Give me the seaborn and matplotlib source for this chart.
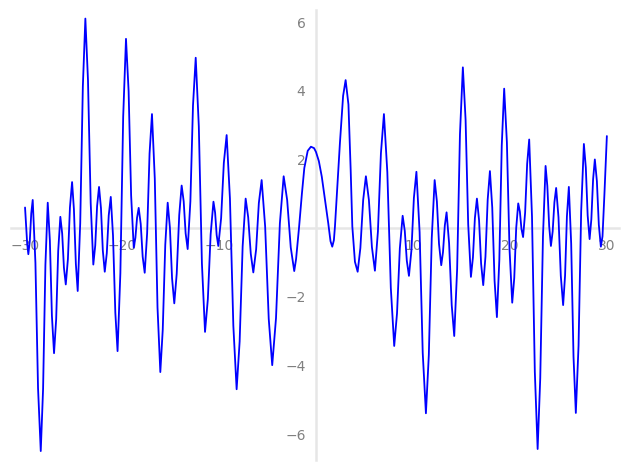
import numpy as np
import pandas as pd
import matplotlib
matplotlib.use("Agg")
import matplotlib.pyplot as plt
import seaborn as sns
from matplotlib.ticker import MultipleLocator, FuncFormatter

# ── Data ────────────────────────────────────────────────────────────────────
x_vals = [-30.00, -29.78, -29.66, -29.51, -29.36, -29.21, -28.93, -28.66, -28.38,
          -28.14, -27.90, -27.66, -27.44, -27.23, -27.01, -26.79, -26.58, -26.36,
          -26.17, -25.99, -25.80, -25.58, -25.37, -25.15, -24.96, -24.76, -24.57,
          -24.31, -24.04, -23.78, -23.51, -23.23, -22.96, -22.76, -22.57, -22.37,
          -22.17, -21.98, -21.78, -21.57, -21.37, -21.16, -20.93, -20.69, -20.46,
          -20.17, -19.88, -19.59, -19.32, -19.06, -18.79, -18.62, -18.45, -18.28,
          -18.07, -17.87, -17.66, -17.41, -17.16, -16.91, -16.62, -16.34, -16.05,
          -15.80, -15.54, -15.29, -15.06, -14.84, -14.61, -14.36, -14.10, -13.85,
          -13.64, -13.44, -13.23, -12.95, -12.68, -12.40, -12.08, -11.76, -11.44,
          -11.15, -10.86, -10.57, -10.40, -10.24, -10.07, -9.78, -9.50, -9.21,
          -8.87, -8.52, -8.18, -7.87, -7.56, -7.25, -6.99, -6.72, -6.46,
          -6.17, -5.89, -5.60, -5.24, -4.87, -4.51, -4.12, -3.72, -3.33,
          -2.97, -2.60, -2.24, -2.05, -1.75, -1.45, -1.20, -0.85, -0.52,
          -0.20, 0.00, 0.30, 0.60, 0.95, 1.27, 1.50, 1.68, 1.85,
          1.96, 2.47, 2.80, 3.06, 3.35, 3.58, 3.75, 4.02, 4.30,
          4.58, 4.87, 5.15, 5.46, 5.77, 6.08, 6.39, 6.70, 7.01,
          7.36, 7.72, 8.07, 8.36, 8.65, 8.94, 9.16, 9.37, 9.59,
          9.85, 10.10, 10.36, 10.69, 11.01, 11.34, 11.64, 11.94, 12.24,
          12.47, 12.69, 12.92, 13.10, 13.29, 13.47, 13.73, 14.00, 14.26,
          14.56, 14.85, 15.15, 15.43, 15.70, 15.98, 16.19, 16.39, 16.60,
          16.82, 17.03, 17.25, 17.48, 17.71, 17.94, 18.18, 18.42, 18.66,
          18.91, 19.16, 19.41, 19.69, 19.96, 20.24, 20.45, 20.65, 20.86,
          21.03, 21.19, 21.36, 21.57, 21.78, 21.99, 22.28, 22.57, 22.86,
          23.13, 23.41, 23.68, 23.86, 24.05, 24.23, 24.41, 24.59, 24.77,
          25.01, 25.25, 25.49, 25.69, 25.88, 26.08, 26.32, 26.56, 26.80,
          27.08, 27.35, 27.63, 27.83, 28.02, 28.22, 28.40, 28.58, 28.76,
          28.97, 29.17, 29.38, 29.55, 29.75, 30.00]
y_vals = [0.60, -0.45, -0.76, -0.37, 0.43, 0.82, -1.01, -4.66, -6.49,
          -4.68, -1.07, 0.74, -0.36, -2.55, -3.64, -2.65, -0.66, 0.33,
          -0.16, -1.15, -1.64, -0.90, 0.60, 1.34, 0.55, -1.04, -1.83,
          0.15, 4.12, 6.10, 4.31, 0.73, -1.06, -0.50, 0.64, 1.20,
          0.58, -0.65, -1.27, -0.73, 0.37, 0.91, -0.21, -2.46, -3.58,
          -1.31, 3.24, 5.51, 3.99, 0.95, -0.57, -0.28, 0.30, 0.59,
          0.12, -0.83, -1.30, -0.15, 2.17, 3.32, 1.44, -2.31, -4.19,
          -2.96, -0.49, 0.74, 0.01, -1.46, -2.19, -1.33, 0.38, 1.24,
          0.78, -0.15, -0.61, 0.78, 3.57, 4.96, 2.96, -1.03, -3.02,
          -2.07, -0.18, 0.77, 0.45, -0.20, -0.52, 0.29, 1.90, 2.71,
          0.86, -2.84, -4.69, -3.30, -0.53, 0.86, 0.32, -0.75, -1.29,
          -0.62, 0.73, 1.40, 0.05, -2.64, -3.99, -2.62, 0.14, 1.51,
          0.82, -0.56, -1.25, -0.90, 0.00, 1.00, 1.75, 2.25, 2.37,
          2.33, 2.22, 1.95, 1.50, 0.80, 0.14, -0.38, -0.54, -0.35,
          0.05, 2.47, 3.85, 4.31, 3.60, 1.70, 0.05, -0.98, -1.27,
          -0.58, 0.82, 1.51, 0.82, -0.55, -1.24, -0.10, 2.18, 3.32,
          1.63, -1.74, -3.43, -2.48, -0.59, 0.36, -0.08, -0.95, -1.39,
          -0.63, 0.88, 1.64, -0.12, -3.63, -5.39, -3.69, -0.30, 1.40,
          0.78, -0.46, -1.08, -0.70, 0.08, 0.46, -0.44, -2.24, -3.14,
          -1.19, 2.73, 4.68, 3.16, 0.11, -1.42, -0.85, 0.29, 0.86,
          0.23, -1.03, -1.66, -0.83, 0.83, 1.66, 0.60, -1.53, -2.59,
          -0.93, 2.40, 4.06, 2.50, -0.61, -2.17, -1.45, 0.00, 0.72,
          0.48, -0.02, -0.26, 0.45, 1.87, 2.58, 0.33, -4.18, -6.43,
          -4.37, -0.25, 1.81, 1.23, 0.06, -0.52, -0.10, 0.75, 1.17,
          0.32, -1.39, -2.24, -1.38, 0.34, 1.20, -0.45, -3.74, -5.38,
          -3.42, 0.49, 2.45, 1.76, 0.37, -0.32, 0.26, 1.42, 2.00,
          1.37, 0.10, -0.54, -0.24, 1.00, 2.68]

x_major = [-30, -20, -10, 10, 20, 30]
y_major = [-6, -4, -2, 2, 4, 6]

df = pd.DataFrame({"x": x_vals, "y": y_vals})

# ── Figure ──────────────────────────────────────────────────────────────────
sns.set_style("white")
fig = plt.figure(figsize=(6.27, 4.70), dpi=100)
ax = fig.add_axes([10.5 / 627, 10 / 470, 608 / 627, 450 / 470])

sns.lineplot(data=df, x="x", y="y", color="blue", linewidth=1.3, ax=ax,
             sort=False, estimator=None)

ax.set_xlim(-31.5, 31.2)
ax.set_ylim(-6.75, 6.35)
ax.set_xlabel("")
ax.set_ylabel("")

grey = "#e6e6e6"
for side in ["top", "right"]:
    ax.spines[side].set_visible(False)
for side in ["left", "bottom"]:
    ax.spines[side].set_position("zero")
    ax.spines[side].set_color(grey)
    ax.spines[side].set_linewidth(1.8)
    ax.spines[side].set_zorder(0)

ax.set_xticks(x_major)
ax.set_yticks(y_major)
ax.xaxis.set_minor_locator(MultipleLocator(2))
ax.yaxis.set_minor_locator(MultipleLocator(0.5))

fmt = FuncFormatter(lambda v, p: f"{v:.0f}".replace("-", "\u2212"))
ax.xaxis.set_major_formatter(fmt)
ax.yaxis.set_major_formatter(fmt)

ax.tick_params(which="both", colors="#777777", labelcolor="#808080", labelsize=10,
               direction="out", width=0.8)
ax.tick_params(which="major", length=4, pad=3.5)
ax.tick_params(which="minor", length=2.5)

plt.savefig("out.png", dpi=100)
